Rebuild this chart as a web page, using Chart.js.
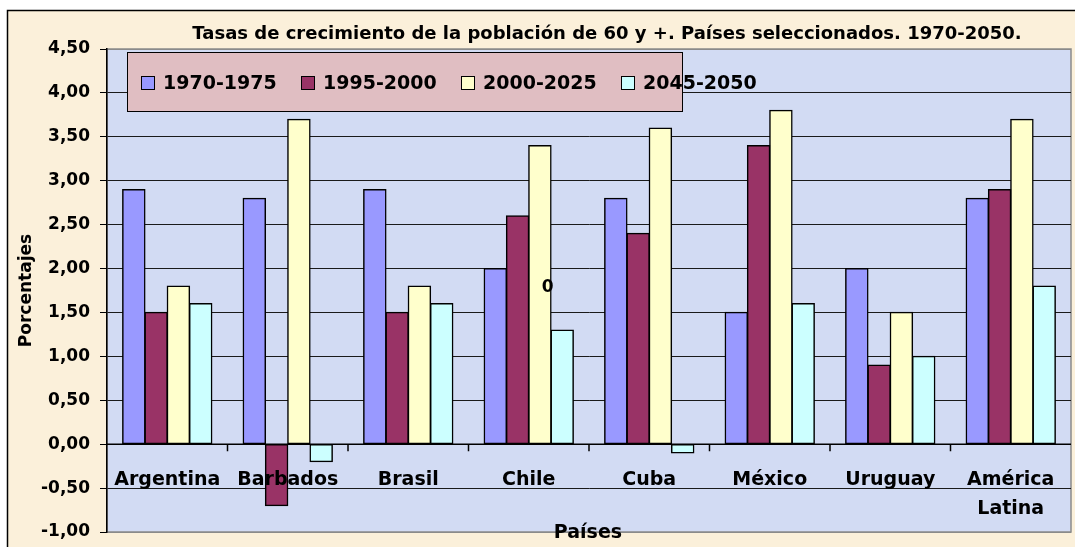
<!DOCTYPE html>
<html>
<head>
<meta charset="utf-8">
<script src="https://cdn.jsdelivr.net/npm/chart.js@4/dist/chart.umd.min.js"></script>
<style>
  html, body { margin: 0; padding: 0; background: #fff; }
  #wrap { width: 1075px; height: 547px; }
</style>
</head>
<body>
<div id="wrap"><canvas id="chart" width="1075" height="547"></canvas></div>
<script>
const categories = ['Argentina', 'Barbados', 'Brasil', 'Chile', 'Cuba', 'México', 'Uruguay', ['América', 'Latina']];
const periods = ['1970-1975', '1995-2000', '2000-2025', '2045-2050'];
const rate1970 = [2.9, 2.8, 2.9, 2.0, 2.8, 1.5, 2.0, 2.8];
const rate1995 = [1.5, -0.7, 1.5, 2.6, 2.4, 3.4, 0.9, 2.9];
const rate2000 = [1.8, 3.7, 1.8, 3.4, 3.6, 3.8, 1.5, 3.7];
const rate2045 = [1.6, -0.2, 1.6, 1.3, -0.1, 1.6, 1.0, 1.8];
const yTicks = [-1.0, -0.5, 0.0, 0.5, 1.0, 1.5, 2.0, 2.5, 3.0, 3.5, 4.0, 4.5];

const title = 'Tasas de crecimiento de la población de 60 y +. Países seleccionados. 1970-2050.';
const yTitle = 'Porcentajes';
const xTitle = 'Países';
const colors = ['#9999ff', '#993366', '#ffffcc', '#ccffff'];
const FONT = '"DejaVu Sans", Arial, sans-serif';

const series = [rate1970, rate1995, rate2000, rate2045];

// backgrounds, frame, title, axis decorations, legend
const excelLook = {
  id: 'excelLook',
  beforeDraw(chart) {
    const { ctx, chartArea: a } = chart;
    ctx.save();
    ctx.fillStyle = '#ffffff';
    ctx.fillRect(0, 0, chart.width, chart.height);
    ctx.fillStyle = '#fbf0da';
    ctx.fillRect(7, 10, chart.width - 7, chart.height - 10);
    ctx.strokeStyle = '#000';
    ctx.lineWidth = 1.5;
    ctx.beginPath();
    ctx.moveTo(7.5, chart.height);
    ctx.lineTo(7.5, 10.5);
    ctx.lineTo(chart.width, 10.5);
    ctx.stroke();
    // plot area
    ctx.fillStyle = '#d2dbf3';
    ctx.fillRect(a.left, a.top, a.right - a.left, a.bottom - a.top);
    ctx.strokeStyle = '#8a8a8a';
    ctx.lineWidth = 1.5;
    ctx.strokeRect(a.left, a.top, a.right - a.left, a.bottom - a.top);
    ctx.restore();
  },
  afterDatasetsDraw(chart) {
    const { ctx, chartArea: a, scales: { x, y } } = chart;
    ctx.save();
    // zero line with category tick marks
    const y0 = y.getPixelForValue(0);
    ctx.strokeStyle = '#000';
    ctx.lineWidth = 1.5;
    ctx.beginPath();
    ctx.moveTo(a.left, y0);
    ctx.lineTo(a.right, y0);
    for (let i = 0; i < categories.length - 1; i++) {
      const bx = (x.getPixelForValue(i) + x.getPixelForValue(i + 1)) / 2;
      ctx.moveTo(bx, y0);
      ctx.lineTo(bx, y0 + 7);
    }
    ctx.stroke();
    // category labels under the zero line
    ctx.fillStyle = '#000';
    ctx.font = 'bold 19px ' + FONT;
    ctx.textAlign = 'center';
    ctx.textBaseline = 'alphabetic';
    categories.forEach((c, i) => {
      const lines = Array.isArray(c) ? c : [c];
      const cx = x.getPixelForValue(i);
      lines.forEach((t, k) => ctx.fillText(t, cx, y0 + 41 + k * 29));
    });
    // stray data label in the original
    ctx.font = 'bold 17px ' + FONT;
    ctx.fillText('0', x.getPixelForValue(3) + 19, y.getPixelForValue(1.8) + 6);
    ctx.restore();
  },
  afterDraw(chart) {
    const { ctx, chartArea: a } = chart;
    ctx.save();
    ctx.fillStyle = '#000';
    ctx.textBaseline = 'alphabetic';
    // title
    ctx.font = 'bold 18px ' + FONT;
    ctx.textAlign = 'center';
    ctx.fillText(title, 607, 39);
    // x axis title
    ctx.font = 'bold 19px ' + FONT;
    ctx.fillText(xTitle, 588, 538);
    // y axis title
    ctx.font = 'bold 17px ' + FONT;
    ctx.translate(31, (a.top + a.bottom) / 2);
    ctx.rotate(-Math.PI / 2);
    ctx.fillText(yTitle, 0, 0);
    ctx.restore();

    // legend box
    ctx.save();
    ctx.fillStyle = '#e0bec2';
    ctx.fillRect(127, 52, 555, 59);
    ctx.strokeStyle = '#000';
    ctx.lineWidth = 1;
    ctx.strokeRect(127.5, 52.5, 555, 59);
    ctx.font = 'bold 19px ' + FONT;
    ctx.textAlign = 'left';
    periods.forEach((p, i) => {
      const mx = 141 + i * 160;
      ctx.fillStyle = colors[i];
      ctx.fillRect(mx, 76, 13, 13);
      ctx.strokeStyle = '#000';
      ctx.strokeRect(mx + 0.5, 76.5, 13, 13);
      ctx.fillStyle = '#000';
      ctx.fillText(p, mx + 22, 89);
    });
    ctx.restore();
  }
};

new Chart(document.getElementById('chart'), {
  type: 'bar',
  data: {
    labels: categories,
    datasets: periods.map((p, i) => ({
      label: p,
      data: series[i],
      backgroundColor: colors[i],
      borderColor: '#000',
      borderWidth: 1.5,
      borderSkipped: false,
      inflateAmount: 0.6,
      categoryPercentage: 0.74,
      barPercentage: 1.0,
    })),
  },
  options: {
    responsive: false,
    animation: false,
    layout: {
      padding: { top: 49, right: 4, bottom: 15, left: 0 },
    },
    plugins: {
      legend: { display: false },
      title: { display: false },
      tooltip: { enabled: false },
    },
    scales: {
      x: {
        display: false,
      },
      y: {
        min: -1,
        max: 4.5,
        afterBuildTicks: (scale) => {
          scale.ticks = yTicks.map((v) => ({ value: v }));
        },
        afterFit: (scale) => {
          scale.width = 107;
          scale.paddingTop = 0;
          scale.paddingBottom = 0;
        },
        ticks: {
          color: '#000',
          padding: 10,
          font: { family: FONT, size: 17, weight: 'bold' },
          callback: (v) => Number(v).toFixed(2).replace('.', ','),
        },
        grid: {
          color: (c) => (c.tick && (c.tick.value === 4.5 || c.tick.value === -1) ? '#8a8a8a' : '#1a1a1a'),
          tickColor: '#000',
          tickLength: 7,
          lineWidth: 1,
        },
        border: {
          color: '#000',
          width: 1.5,
        },
      },
    },
  },
  plugins: [excelLook],
});
</script>
</body>
</html>
